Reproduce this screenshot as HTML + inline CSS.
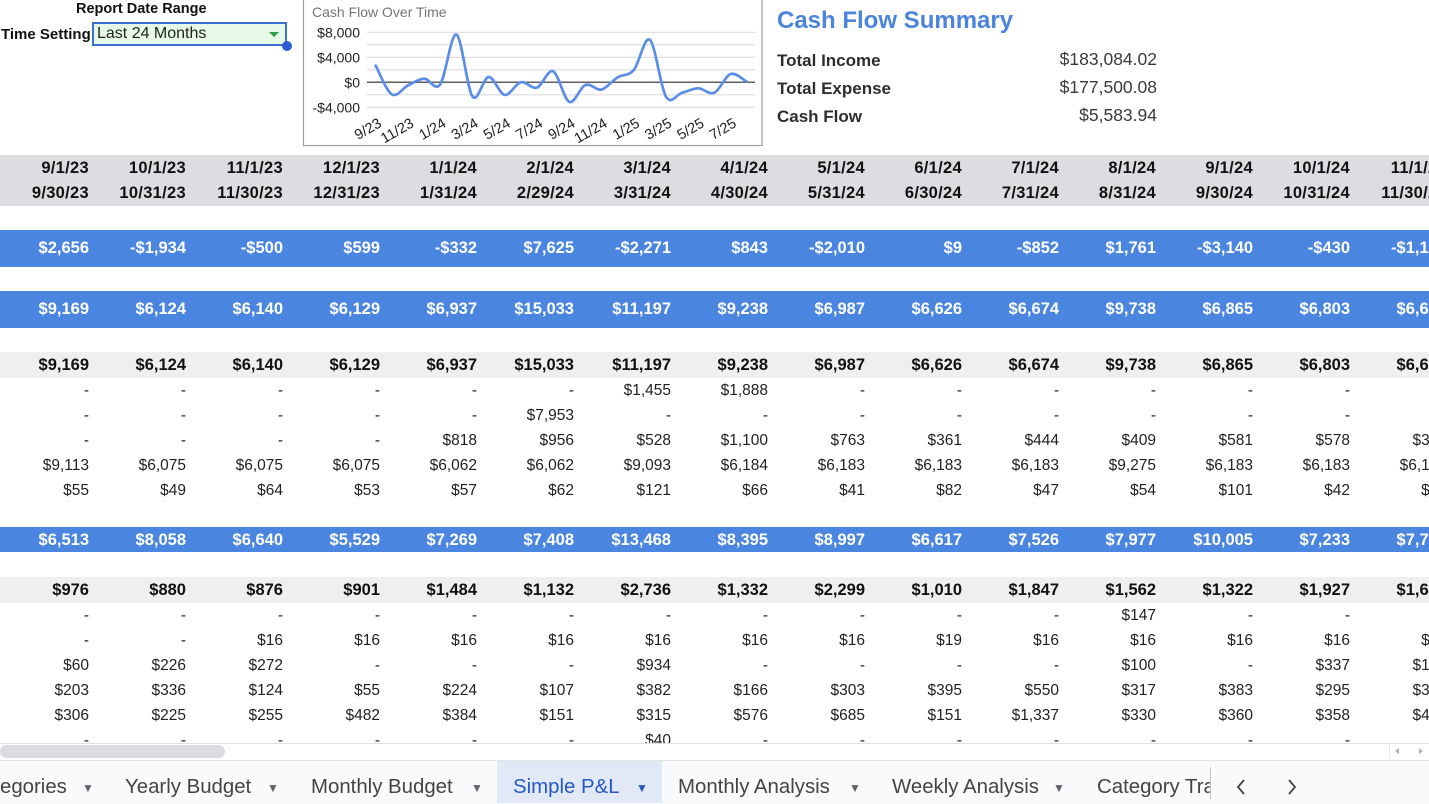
<!DOCTYPE html>
<html><head><meta charset="utf-8">
<style>
html,body{margin:0;padding:0;}
body{width:1429px;height:803px;overflow:hidden;position:relative;background:#fff;font-family:"Liberation Sans",Arial,sans-serif;color:#222;}
.abs{position:absolute;white-space:nowrap;}
.sheet{position:absolute;left:0;top:0;width:1429px;height:743px;overflow:hidden;}
.band{position:absolute;left:0;width:1429px;}
.r{position:absolute;left:-8px;height:25px;line-height:25px;display:flex;white-space:nowrap;font-size:15.5px;color:#222;}
.r span{width:97px;flex:none;text-align:right;}
.b{font-weight:bold;font-size:16.5px;color:#111;}
.w{color:#fff;}
.h{letter-spacing:0.3px;}
.tab{position:absolute;top:775px;height:25px;line-height:25px;font-size:20.4px;color:#444;white-space:nowrap;}
.arr{position:absolute;top:778px;font-size:12px;color:#5f6368;line-height:20px;}
</style></head><body>

<!-- top-left controls -->
<div class="abs" style="left:76px;top:2px;font-size:14.5px;font-weight:bold;color:#111;line-height:14.5px;">Report Date Range</div>
<div class="abs" style="left:1px;top:27px;font-size:15px;font-weight:bold;color:#111;line-height:15px;">Time Setting</div>
<div class="abs" style="left:92px;top:22px;width:195px;height:24px;box-sizing:border-box;border:2px solid #3b6fd4;background:#e6f8e6;"></div>
<div class="abs" style="left:97px;top:26px;font-size:16px;line-height:16px;color:#222;">Last 24 Months</div>
<div class="abs" style="left:269px;top:32px;width:0;height:0;border-left:5px solid transparent;border-right:5px solid transparent;border-top:5px solid #2f9e4f;"></div>
<div class="abs" style="left:282px;top:41px;width:10px;height:10px;border-radius:50%;background:#2a5cd6;"></div>

<!-- chart -->
<svg class="abs" style="left:0;top:0;" width="770" height="150" viewBox="0 0 770 150">
  <rect x="303.5" y="-2" width="458.5" height="147.5" fill="#fff" stroke="#9e9e9e" stroke-width="1.2"/>
  <text x="312" y="17" font-family="Liberation Sans, Arial, sans-serif" font-size="14" fill="#757575">Cash Flow Over Time</text>
  <g stroke="#dcdcdc" stroke-width="1.2">
    <line x1="367" y1="32.3" x2="755" y2="32.3"/>
    <line x1="367" y1="44.8" x2="755" y2="44.8"/>
    <line x1="367" y1="57.3" x2="755" y2="57.3"/>
    <line x1="367" y1="69.8" x2="755" y2="69.8"/>
    <line x1="367" y1="94.8" x2="755" y2="94.8"/>
    <line x1="367" y1="107.3" x2="755" y2="107.3"/>
  </g>
  <line x1="367" y1="82.3" x2="755" y2="82.3" stroke="#5f5f5f" stroke-width="1.5"/>
  <g font-family="Liberation Sans, Arial, sans-serif" font-size="14" fill="#222" text-anchor="end">
    <text x="360" y="37.3">$8,000</text>
    <text x="360" y="62.3">$4,000</text>
    <text x="360" y="87.3">$0</text>
    <text x="360" y="112.5">-$4,000</text>
  </g>
  <path fill="none" stroke="#5b8ee9" stroke-width="2.7" stroke-linejoin="round" stroke-linecap="round"
   d="M375.7,65.7 C378.4,70.5 386.4,91.1 391.8,94.4 C397.2,97.7 402.6,88.0 408.0,85.4 C413.4,82.8 418.7,78.8 424.1,78.6 C429.5,78.4 434.8,91.7 440.2,84.4 C445.6,77.1 451.0,32.6 456.4,34.6 C461.8,36.6 467.1,89.4 472.5,96.5 C477.9,103.6 483.2,77.3 488.6,77.0 C494.0,76.7 499.3,94.0 504.7,94.9 C510.1,95.8 515.5,83.4 520.9,82.2 C526.3,81.0 531.6,89.4 537.0,87.6 C542.4,85.8 547.7,68.9 553.1,71.3 C558.5,73.7 563.9,99.6 569.3,101.9 C574.7,104.2 580.0,87.1 585.4,85.0 C590.8,82.9 596.1,90.8 601.5,89.5 C606.9,88.2 612.3,80.6 617.7,77.3 C623.1,74.1 628.4,76.3 633.8,70.0 C639.2,63.8 644.5,35.4 649.9,39.8 C655.3,44.3 660.6,87.9 666.0,96.7 C671.4,105.5 676.8,94.1 682.2,92.7 C687.6,91.3 692.9,88.3 698.3,88.3 C703.7,88.3 709.0,95.1 714.4,92.7 C719.8,90.3 725.2,75.8 730.6,74.0 C736.0,72.2 744.0,80.4 746.7,81.7"/>
  <g font-family="Liberation Sans, Arial, sans-serif" font-size="14.5" fill="#222" text-anchor="end">
    <text transform="translate(382.5,126) rotate(-30)">9/23</text>
    <text transform="translate(414.8,126) rotate(-30)">11/23</text>
    <text transform="translate(447.0,126) rotate(-30)">1/24</text>
    <text transform="translate(479.3,126) rotate(-30)">3/24</text>
    <text transform="translate(511.5,126) rotate(-30)">5/24</text>
    <text transform="translate(543.8,126) rotate(-30)">7/24</text>
    <text transform="translate(576.1,126) rotate(-30)">9/24</text>
    <text transform="translate(608.3,126) rotate(-30)">11/24</text>
    <text transform="translate(640.6,126) rotate(-30)">1/25</text>
    <text transform="translate(672.8,126) rotate(-30)">3/25</text>
    <text transform="translate(705.1,126) rotate(-30)">5/25</text>
    <text transform="translate(737.4,126) rotate(-30)">7/25</text>
  </g>
</svg>

<!-- summary -->
<div class="abs" style="left:777px;top:9px;font-size:24px;line-height:24px;font-weight:bold;color:#4a84dc;">Cash Flow Summary</div>
<div class="abs" style="left:777px;top:51.5px;font-size:17px;line-height:17px;font-weight:bold;color:#2e2e2e;">Total Income</div>
<div class="abs" style="left:777px;top:79.5px;font-size:17px;line-height:17px;font-weight:bold;color:#2e2e2e;">Total Expense</div>
<div class="abs" style="left:777px;top:107.5px;font-size:17px;line-height:17px;font-weight:bold;color:#2e2e2e;">Cash Flow</div>
<div class="abs" style="left:957px;width:200px;text-align:right;top:51px;font-size:17.5px;line-height:17.5px;color:#3a3a3a;">$183,084.02</div>
<div class="abs" style="left:957px;width:200px;text-align:right;top:79px;font-size:17.5px;line-height:17.5px;color:#3a3a3a;">$177,500.08</div>
<div class="abs" style="left:957px;width:200px;text-align:right;top:107px;font-size:17.5px;line-height:17.5px;color:#3a3a3a;">$5,583.94</div>

<!-- sheet table -->
<div class="sheet">
  <div class="band" style="top:155px;height:51px;background:#dcdde0;"></div>
  <div class="band" style="top:230px;height:37px;background:#4a85e0;"></div>
  <div class="band" style="top:291px;height:37px;background:#4a85e0;"></div>
  <div class="band" style="top:352px;height:26px;background:#efeff1;"></div>
  <div class="band" style="top:527px;height:25px;background:#4a85e0;"></div>
  <div class="band" style="top:577px;height:26px;background:#efeff1;"></div>

  <div class="r b h" style="top:155.5px;"><span>9/1/23</span><span>10/1/23</span><span>11/1/23</span><span>12/1/23</span><span>1/1/24</span><span>2/1/24</span><span>3/1/24</span><span>4/1/24</span><span>5/1/24</span><span>6/1/24</span><span>7/1/24</span><span>8/1/24</span><span>9/1/24</span><span>10/1/24</span><span>11/1/24</span></div>
  <div class="r b h" style="top:180.5px;"><span>9/30/23</span><span>10/31/23</span><span>11/30/23</span><span>12/31/23</span><span>1/31/24</span><span>2/29/24</span><span>3/31/24</span><span>4/30/24</span><span>5/31/24</span><span>6/30/24</span><span>7/31/24</span><span>8/31/24</span><span>9/30/24</span><span>10/31/24</span><span>11/30/24</span></div>

  <div class="r b w" style="top:236px;"><span>$2,656</span><span>-$1,934</span><span>-$500</span><span>$599</span><span>-$332</span><span>$7,625</span><span>-$2,271</span><span>$843</span><span>-$2,010</span><span>$9</span><span>-$852</span><span>$1,761</span><span>-$3,140</span><span>-$430</span><span>-$1,160</span></div>
  <div class="r b w" style="top:297px;"><span>$9,169</span><span>$6,124</span><span>$6,140</span><span>$6,129</span><span>$6,937</span><span>$15,033</span><span>$11,197</span><span>$9,238</span><span>$6,987</span><span>$6,626</span><span>$6,674</span><span>$9,738</span><span>$6,865</span><span>$6,803</span><span>$6,650</span></div>
  <div class="r b" style="top:352.5px;"><span>$9,169</span><span>$6,124</span><span>$6,140</span><span>$6,129</span><span>$6,937</span><span>$15,033</span><span>$11,197</span><span>$9,238</span><span>$6,987</span><span>$6,626</span><span>$6,674</span><span>$9,738</span><span>$6,865</span><span>$6,803</span><span>$6,650</span></div>
  <div class="r" style="top:377.5px;"><span>-</span><span>-</span><span>-</span><span>-</span><span>-</span><span>-</span><span>$1,455</span><span>$1,888</span><span>-</span><span>-</span><span>-</span><span>-</span><span>-</span><span>-</span><span>-</span></div>
  <div class="r" style="top:402.5px;"><span>-</span><span>-</span><span>-</span><span>-</span><span>-</span><span>$7,953</span><span>-</span><span>-</span><span>-</span><span>-</span><span>-</span><span>-</span><span>-</span><span>-</span><span>-</span></div>
  <div class="r" style="top:427.5px;"><span>-</span><span>-</span><span>-</span><span>-</span><span>$818</span><span>$956</span><span>$528</span><span>$1,100</span><span>$763</span><span>$361</span><span>$444</span><span>$409</span><span>$581</span><span>$578</span><span>$381</span></div>
  <div class="r" style="top:452.5px;"><span>$9,113</span><span>$6,075</span><span>$6,075</span><span>$6,075</span><span>$6,062</span><span>$6,062</span><span>$9,093</span><span>$6,184</span><span>$6,183</span><span>$6,183</span><span>$6,183</span><span>$9,275</span><span>$6,183</span><span>$6,183</span><span>$6,183</span></div>
  <div class="r" style="top:477.5px;"><span>$55</span><span>$49</span><span>$64</span><span>$53</span><span>$57</span><span>$62</span><span>$121</span><span>$66</span><span>$41</span><span>$82</span><span>$47</span><span>$54</span><span>$101</span><span>$42</span><span>$54</span></div>

  <div class="r b w" style="top:527.5px;"><span>$6,513</span><span>$8,058</span><span>$6,640</span><span>$5,529</span><span>$7,269</span><span>$7,408</span><span>$13,468</span><span>$8,395</span><span>$8,997</span><span>$6,617</span><span>$7,526</span><span>$7,977</span><span>$10,005</span><span>$7,233</span><span>$7,760</span></div>
  <div class="r b" style="top:577.5px;"><span>$976</span><span>$880</span><span>$876</span><span>$901</span><span>$1,484</span><span>$1,132</span><span>$2,736</span><span>$1,332</span><span>$2,299</span><span>$1,010</span><span>$1,847</span><span>$1,562</span><span>$1,322</span><span>$1,927</span><span>$1,640</span></div>
  <div class="r" style="top:602.5px;"><span>-</span><span>-</span><span>-</span><span>-</span><span>-</span><span>-</span><span>-</span><span>-</span><span>-</span><span>-</span><span>-</span><span>$147</span><span>-</span><span>-</span><span>-</span></div>
  <div class="r" style="top:627.5px;"><span>-</span><span>-</span><span>$16</span><span>$16</span><span>$16</span><span>$16</span><span>$16</span><span>$16</span><span>$16</span><span>$19</span><span>$16</span><span>$16</span><span>$16</span><span>$16</span><span>$16</span></div>
  <div class="r" style="top:652.5px;"><span>$60</span><span>$226</span><span>$272</span><span>-</span><span>-</span><span>-</span><span>$934</span><span>-</span><span>-</span><span>-</span><span>-</span><span>$100</span><span>-</span><span>$337</span><span>$150</span></div>
  <div class="r" style="top:677.5px;"><span>$203</span><span>$336</span><span>$124</span><span>$55</span><span>$224</span><span>$107</span><span>$382</span><span>$166</span><span>$303</span><span>$395</span><span>$550</span><span>$317</span><span>$383</span><span>$295</span><span>$330</span></div>
  <div class="r" style="top:702.5px;"><span>$306</span><span>$225</span><span>$255</span><span>$482</span><span>$384</span><span>$151</span><span>$315</span><span>$576</span><span>$685</span><span>$151</span><span>$1,337</span><span>$330</span><span>$360</span><span>$358</span><span>$480</span></div>
  <div class="r" style="top:727.5px;"><span>-</span><span>-</span><span>-</span><span>-</span><span>-</span><span>-</span><span>$40</span><span>-</span><span>-</span><span>-</span><span>-</span><span>-</span><span>-</span><span>-</span><span>-</span></div>
</div>

<!-- scroll area -->
<div class="abs" style="left:0;top:743px;width:1429px;height:1px;background:#e0e0e0;"></div>
<div class="abs" style="left:0;top:745px;width:225px;height:13px;border-radius:7px;background:#dadce0;"></div>
<div class="abs" style="left:1389px;top:744px;width:40px;height:15px;border-left:1px solid #e6e6e6;"></div>
<div class="abs" style="left:1395px;top:748px;width:0;height:0;border-top:3.5px solid transparent;border-bottom:3.5px solid transparent;border-right:4px solid #b0b0b0;"></div>
<div class="abs" style="left:1419px;top:748px;width:0;height:0;border-top:3.5px solid transparent;border-bottom:3.5px solid transparent;border-left:4px solid #b0b0b0;"></div>

<!-- tab bar -->
<div class="abs" style="left:0;top:760px;width:1429px;height:43px;background:#f9fafb;border-top:1px solid #e3e3e3;"></div>
<div class="abs" style="left:497px;top:761px;width:165px;height:42px;background:#e1e9f7;"></div>
<div class="tab" style="left:0;">egories</div><div class="arr" style="left:82px;">▼</div>
<div class="tab" style="left:125px;">Yearly Budget</div><div class="arr" style="left:267px;">▼</div>
<div class="tab" style="left:311px;">Monthly Budget</div><div class="arr" style="left:471px;">▼</div>
<div class="tab" style="left:513px;color:#2458c6;">Simple P&amp;L</div><div class="arr" style="left:636px;color:#2458c6;">▼</div>
<div class="tab" style="left:678px;">Monthly Analysis</div><div class="arr" style="left:849px;">▼</div>
<div class="tab" style="left:892px;">Weekly Analysis</div><div class="arr" style="left:1053px;">▼</div>
<div class="tab" style="left:1097px;width:113px;overflow:hidden;">Category Transactions</div>
<div class="abs" style="left:1210px;top:767px;width:1px;height:32px;background:#c4c4c4;"></div>
<svg class="abs" style="left:1230px;top:776px;" width="75" height="22" viewBox="0 0 75 22">
  <polyline points="14,4 8,11 14,18" fill="none" stroke="#444" stroke-width="1.8"/>
  <polyline points="59,4 65,11 59,18" fill="none" stroke="#444" stroke-width="1.8"/>
</svg>

</body></html>
